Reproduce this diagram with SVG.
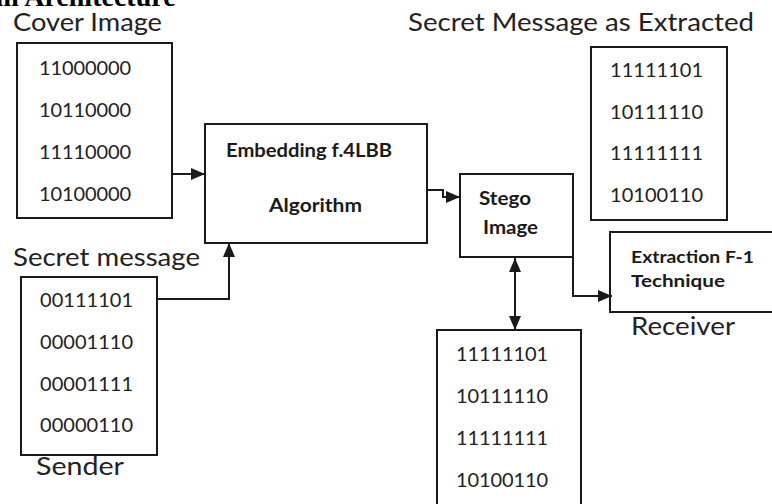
<svg xmlns="http://www.w3.org/2000/svg" width="772" height="504" viewBox="0 0 772 504">
<style>
.box{fill:#fff;stroke:#1a1a1a;stroke-width:2}
.lbl{font-family:Lato,"Liberation Sans",sans-serif;font-size:25px;fill:#222}
.num{font-family:Lato,"Liberation Sans",sans-serif;font-size:20px;fill:#222}
.bld{font-family:Lato,"Liberation Sans",sans-serif;font-weight:bold;font-size:19px;fill:#1a1a1a}
.sm{font-size:17px}
.ttl{font-family:"Liberation Serif",serif;font-weight:bold;font-size:28px;fill:#000}
.con{fill:none;stroke:#1a1a1a;stroke-width:2}
</style>
<defs>
<marker id="ah" markerUnits="userSpaceOnUse" markerWidth="16" markerHeight="12" refX="14" refY="6" orient="auto-start-reverse">
<path d="M0,0 L14,6 L0,12 Z" fill="#1a1a1a"/>
</marker>
</defs>
<rect width="772" height="504" fill="#fff"/>
<text class="ttl" x="-17" y="6">em Architecture</text>

<g id="cover">
<text class="lbl" x="13" y="31" textLength="149" lengthAdjust="spacingAndGlyphs">Cover Image</text>
<rect class="box" x="17" y="43" width="155" height="175"/>
<text class="num" x="39" y="75" textLength="92">11000000</text>
<text class="num" x="39" y="117" textLength="92">10110000</text>
<text class="num" x="39" y="159" textLength="92">11110000</text>
<text class="num" x="39" y="201" textLength="92">10100000</text>
</g>

<g id="embedding">
<rect class="box" x="205" y="124" width="222" height="119"/>
<text class="bld" x="226" y="157" textLength="166" lengthAdjust="spacingAndGlyphs">Embedding f.4LBB</text>
<text class="bld" x="269" y="212" textLength="93" lengthAdjust="spacingAndGlyphs">Algorithm</text>
</g>

<g id="secret">
<text class="lbl" x="13" y="266" textLength="187" lengthAdjust="spacingAndGlyphs">Secret message</text>
<rect class="box" x="21" y="277" width="136" height="178"/>
<text class="num" x="40" y="307" textLength="93">00111101</text>
<text class="num" x="40" y="349" textLength="93">00001110</text>
<text class="num" x="40" y="391" textLength="93">00001111</text>
<text class="num" x="40" y="432" textLength="93">00000110</text>
<text class="lbl" x="36" y="475" textLength="88" lengthAdjust="spacingAndGlyphs">Sender</text>
</g>

<g id="stego">
<rect class="box" x="460" y="174" width="113" height="83"/>
<text class="bld" x="479" y="205" textLength="52" lengthAdjust="spacingAndGlyphs">Stego</text>
<text class="bld" x="483" y="234" textLength="55" lengthAdjust="spacingAndGlyphs">Image</text>
</g>

<g id="extracted">
<text class="lbl" x="408" y="31" textLength="346" lengthAdjust="spacingAndGlyphs">Secret Message as  Extracted</text>
<rect class="box" x="591" y="47" width="136" height="173"/>
<text class="num" x="610" y="77" textLength="93">11111101</text>
<text class="num" x="610" y="119" textLength="93">10111110</text>
<text class="num" x="610" y="160" textLength="93">11111111</text>
<text class="num" x="610" y="202" textLength="93">10100110</text>
</g>

<g id="extraction">
<rect class="box" x="610" y="232" width="175" height="80"/>
<text class="bld sm" x="631" y="263" textLength="123" lengthAdjust="spacingAndGlyphs">Extraction F-1</text>
<text class="bld sm" x="631" y="287" textLength="94" lengthAdjust="spacingAndGlyphs">Technique</text>
<text class="lbl" x="631" y="335" textLength="104" lengthAdjust="spacingAndGlyphs">Receiver</text>
</g>

<g id="stegodata">
<rect class="box" x="437" y="330" width="144" height="190"/>
<text class="num" x="456" y="361" textLength="92">11111101</text>
<text class="num" x="456" y="403" textLength="92">10111110</text>
<text class="num" x="456" y="445" textLength="92">11111111</text>
<text class="num" x="456" y="487" textLength="92">10100110</text>
</g>

<g id="connectors">
<path class="con" d="M172,174 H205" marker-end="url(#ah)"/>
<path class="con" d="M157,299 H229 V243" marker-end="url(#ah)"/>
<path class="con" d="M427,190 H443 V197 H460" marker-end="url(#ah)"/>
<path class="con" d="M573,257 V296 H612" marker-end="url(#ah)"/>
<path class="con" d="M515,258 V330" marker-start="url(#ah)" marker-end="url(#ah)"/>
</g>
</svg>
